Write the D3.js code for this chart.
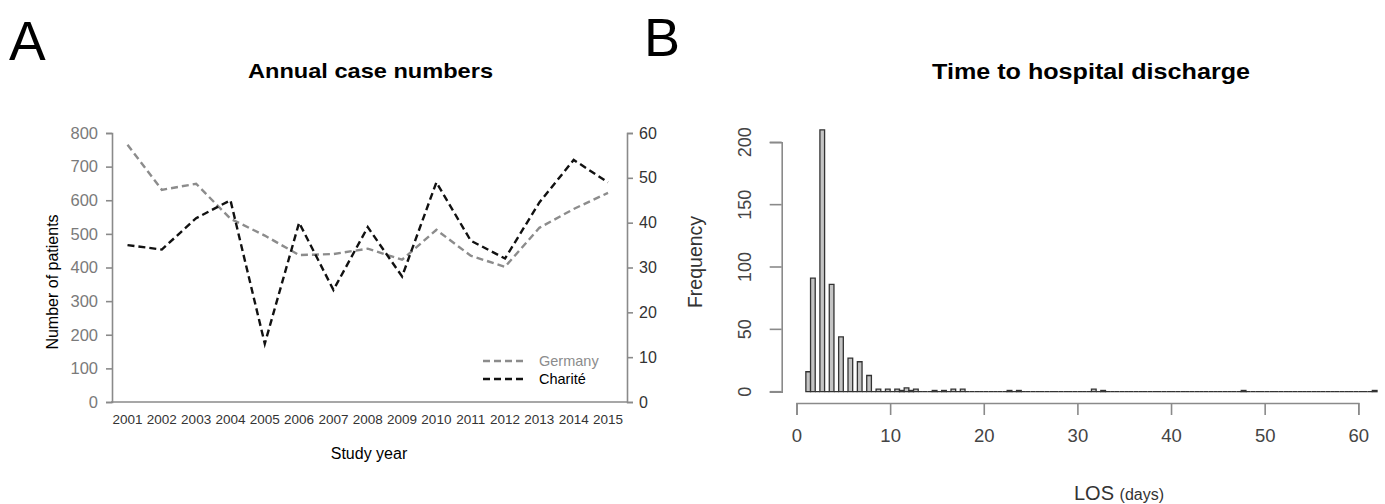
<!DOCTYPE html>
<html>
<head>
<meta charset="utf-8">
<script src="https://cdn.jsdelivr.net/npm/d3@7"></script>
<style>
  body { margin: 0; background: #fff; }
  svg { font-family: "Liberation Sans", Arial, sans-serif; }
  .axis .domain, .axis line { stroke: #8a8a8a; stroke-width: 1.6; }
</style>
</head>
<body>
<svg id="fig" width="1385" height="504"></svg>
<script>
// Panel A: annual case numbers
const years = ["2001","2002","2003","2004","2005","2006","2007","2008","2009","2010","2011","2012","2013","2014","2015"];
const germany = [765, 631, 649, 545, 495, 437, 440, 456, 423, 512, 435, 402, 518, 574, 622];
const charite = [35, 34, 41, 45, 13, 40, 25, 39, 28, 49, 36, 32, 44.5, 54, 49];
const leftTicks = [0, 100, 200, 300, 400, 500, 600, 700, 800];
const rightTicks = [0, 10, 20, 30, 40, 50, 60];

// Panel B: length of stay histogram, half-day bins (left edge -> count), other bins empty
const losBinLeft = [1, 1.5, 2.5, 3.5, 4.5, 5.5, 6.5, 7.5, 8.5, 9.5, 10.5, 11, 11.5, 12, 12.5,
                    14.5, 15.5, 16.5, 17.5, 22.5, 23.5, 31.5, 32.5, 47.5, 61.5];
const losCount   = [16, 91, 210, 86, 44, 27, 24, 13, 2, 2, 2, 1, 3, 1, 2,
                    1, 1, 2, 2, 1, 1, 2, 1, 1, 1];
const losTicks = [0, 10, 20, 30, 40, 50, 60];
const freqTicks = [0, 50, 100, 150, 200];

const svg = d3.select('#fig');

/* ======== Panel A ======== */
const x = d3.scalePoint().domain(years).range([127.5, 608]);
const yL = d3.scaleLinear().domain([0, 800]).range([402, 133]);
const yR = d3.scaleLinear().domain([0, 60]).range([402, 133]);

svg.append('text').attr('x', 9).attr('y', 60).attr('font-size', 55).text('A');
svg.append('text').attr('x', 248).attr('y', 78)
    .attr('font-size', 20.5).attr('font-weight', 'bold')
    .attr('textLength', 245).attr('lengthAdjust', 'spacingAndGlyphs')
    .text('Annual case numbers');

// left axis
let gL = svg.append('g').attr('class', 'axis')
    .attr('transform', 'translate(112,0)')
    .call(d3.axisLeft(yL).tickValues(leftTicks).tickSizeOuter(0).tickSize(6).tickPadding(8));
gL.selectAll('text').attr('font-size', 16.5).attr('fill', '#7a7a7a');

// right axis
let gR = svg.append('g').attr('class', 'axis')
    .attr('transform', 'translate(627,0)')
    .call(d3.axisRight(yR).tickValues(rightTicks).tickSizeOuter(0).tickSize(6).tickPadding(6));
gR.selectAll('text').attr('font-size', 16).attr('fill', '#333');

// bottom baseline with year labels
svg.append('line').attr('x1', 111).attr('x2', 627).attr('y1', 402).attr('y2', 402)
    .attr('stroke', '#8a8a8a').attr('stroke-width', 1.6);
svg.append('g').selectAll('text').data(years).enter().append('text')
    .attr('x', d => x(d)).attr('y', 424).attr('text-anchor', 'middle')
    .attr('font-size', 13.5).attr('fill', '#333').text(d => d);

svg.append('text').attr('x', 369).attr('y', 459).attr('text-anchor', 'middle')
    .attr('font-size', 16).text('Study year');
svg.append('text').attr('transform', 'translate(58,282) rotate(-90)')
    .attr('text-anchor', 'middle').attr('font-size', 16).text('Number of patients');

const lineL = d3.line().x((d, i) => x(years[i])).y(d => yL(d));
const lineR = d3.line().x((d, i) => x(years[i])).y(d => yR(d));

svg.append('path').attr('d', lineL(germany)).attr('fill', 'none')
    .attr('stroke', '#8c8c8c').attr('stroke-width', 2.4).attr('stroke-dasharray', '7,4');
svg.append('path').attr('d', lineR(charite)).attr('fill', 'none')
    .attr('stroke', '#111').attr('stroke-width', 2.4).attr('stroke-dasharray', '7,4');

// legend
const legend = [
    {name: 'Germany', color: '#8c8c8c', text: '#8c8c8c'},
    {name: 'Charité', color: '#111', text: '#000'}
];
let lg = svg.append('g').selectAll('g').data(legend).enter().append('g')
    .attr('transform', (d, i) => `translate(483,${361 + i * 18})`);
lg.append('line').attr('x1', 0).attr('x2', 43).attr('stroke', d => d.color)
    .attr('stroke-width', 2.4).attr('stroke-dasharray', '7,4');
lg.append('text').attr('x', 56).attr('y', 5).attr('font-size', 14.5)
    .attr('fill', d => d.text).text(d => d.name);

/* ======== Panel B ======== */
const xH = d3.scaleLinear().domain([0, 60]).range([796.5, 1358.3]);
const yH = d3.scaleLinear().domain([0, 200]).range([391.7, 142.3]);

svg.append('text').attr('x', 644).attr('y', 56).attr('font-size', 54).text('B');
svg.append('text').attr('x', 932).attr('y', 79)
    .attr('font-size', 21.5).attr('font-weight', 'bold')
    .attr('textLength', 318).attr('lengthAdjust', 'spacingAndGlyphs')
    .text('Time to hospital discharge');

// all half-day bins from 1 to 62, counts looked up from the read values
const bins = d3.range(1, 62, 0.5).map(b => {
    const k = losBinLeft.indexOf(b);
    return {x0: b, x1: b + 0.5, n: k < 0 ? 0 : losCount[k]};
});
// drawn as closed outlines so empty bins still show on the baseline
svg.append('g').selectAll('path').data(bins).enter().append('path')
    .attr('d', d => `M${xH(d.x0)},${yH(0)}V${yH(d.n)}H${xH(d.x1)}V${yH(0)}Z`)
    .attr('fill', '#c4c4c4').attr('stroke', '#333').attr('stroke-width', 1.3);

let gHy = svg.append('g').attr('class', 'axis hist')
    .attr('transform', 'translate(781.7,0)')
    .call(d3.axisLeft(yH).tickValues(freqTicks).tickSizeOuter(0).tickSize(12));
gHy.selectAll('text').attr('font-size', 18).attr('fill', '#444')
    .attr('text-anchor', 'middle').attr('x', null).attr('dy', null)
    .attr('transform', d => `translate(-31,${yH(d)}) rotate(-90)`).attr('y', 0);
gHy.selectAll('.tick').attr('transform', null);
gHy.selectAll('.tick line').attr('transform', d => `translate(0,${yH(d)})`);

let gHx = svg.append('g').attr('class', 'axis hist')
    .attr('transform', 'translate(0,403)')
    .call(d3.axisBottom(xH).tickValues(losTicks).tickSizeOuter(0).tickSize(12).tickPadding(14));
gHx.selectAll('text').attr('font-size', 18.5).attr('fill', '#444');
svg.selectAll('.hist .domain, .hist line').attr('stroke', '#666');

svg.append('text').attr('transform', 'translate(702,262) rotate(-90)')
    .attr('text-anchor', 'middle').attr('font-size', 19.5).attr('fill', '#333').text('Frequency');

let los = svg.append('text').attr('x', 1119).attr('y', 500).attr('text-anchor', 'middle')
    .attr('fill', '#333');
los.append('tspan').attr('font-size', 20).text('LOS ');
los.append('tspan').attr('font-size', 16).text('(days)');
</script>
</body>
</html>
